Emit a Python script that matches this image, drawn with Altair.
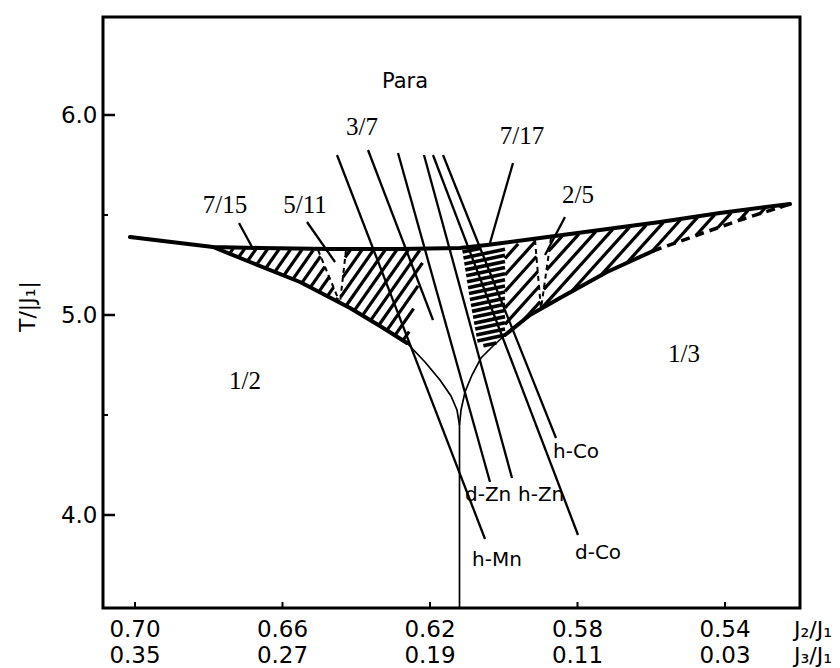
import altair as alt
import numpy as np
import pandas as pd

# ---------------------------------------------------------------------------
# Axis extents: J2/J1 decreases to the right, T/|J1| upwards
# ---------------------------------------------------------------------------
X_LO, X_HI = 0.51966, 0.70868
Y_LO, Y_HI = 3.535, 6.49
W, H = 697, 591

# ---------------------------------------------------------------------------
# Phase boundaries (J2/J1, T/|J1|)
# ---------------------------------------------------------------------------
para_x = [0.70136, 0.67885, 0.66610, 0.64712, 0.62814, 0.61186, 0.60454,
          0.59017, 0.57390, 0.55763, 0.54136, 0.52237]
para_y = [5.39, 5.34, 5.335, 5.33, 5.33, 5.335, 5.35, 5.385, 5.425, 5.465,
          5.51, 5.555]

# 1/2 phase boundary
half_x = [0.67885, 0.66881, 0.65525, 0.64169, 0.63356, 0.62624]
half_y = [5.34, 5.265, 5.165, 5.035, 4.945, 4.86]
half_thin_x = [0.62624, 0.62136, 0.61729, 0.61431, 0.61268, 0.61200]
half_thin_y = [4.86, 4.765, 4.675, 4.595, 4.525, 4.45]

# 1/3 phase boundary (solid part, then broken part near the tip)
third_x = [0.59966, 0.59288, 0.58475, 0.57200, 0.55953]
third_y = [4.90, 5.0, 5.085, 5.215, 5.32]
third_dash_x = [0.55953, 0.54597, 0.53593, 0.52237]
third_dash_y = [5.32, 5.41, 5.475, 5.555]
third_thin_x = [0.59966, 0.60319, 0.60617, 0.60861, 0.61051, 0.61159, 0.61200]
third_thin_y = [4.90, 4.84, 4.785, 4.70, 4.615, 4.525, 4.45]

# 1/2 - 1/3 boundary
split_x = [0.61200, 0.61200]
split_y = [4.45, Y_LO]

# incommensurate (hatched) regions, split by the commensurate wedges
region_a1_x = [0.67885, 0.66610, 0.65037, 0.64441, 0.65525, 0.66881]
region_a1_y = [5.335, 5.33, 5.325, 5.06, 5.165, 5.265]
region_a2_x = [0.64278, 0.62136, 0.62624, 0.63356, 0.64169, 0.64441]
region_a2_y = [5.325, 5.325, 4.86, 4.945, 5.035, 5.06]
region_b_x = [0.61132, 0.59966, 0.59966, 0.60319, 0.60698, 0.60915]
region_b_y = [5.33, 5.34, 4.90, 4.84, 4.85, 5.075]
region_c1_x = [0.59966, 0.59153, 0.58990, 0.59288, 0.59966]
region_c1_y = [5.34, 5.375, 5.03, 5.0, 4.90]
region_c2_x = [0.58719, 0.57390, 0.55763, 0.54136, 0.52237, 0.53593,
               0.54597, 0.55953, 0.57200, 0.58475, 0.58990]
region_c2_y = [5.385, 5.42, 5.46, 5.505, 5.55, 5.475, 5.41, 5.32, 5.215,
               5.085, 5.03]

# dashed edges of the commensurate wedges
wedge_x0 = [0.65037, 0.64278, 0.59153, 0.58719]
wedge_y0 = [5.325, 5.325, 5.375, 5.385]
wedge_x1 = [0.64441, 0.64441, 0.58990, 0.58990]
wedge_y1 = [5.06, 5.06, 5.03, 5.03]

# material lines (h-Mn, 3/7 pointer, d-Zn, h-Zn, d-Co, h-Co): top and bottom points
mat_x0 = [0.64522, 0.63681, 0.62868, 0.62163, 0.61919, 0.61647]
mat_y0 = [5.80, 5.825, 5.81, 5.80, 5.80, 5.80]
mat_x1 = [0.60508, 0.61919, 0.60373, 0.59776, 0.57986, 0.58583]
mat_y1 = [3.88, 4.975, 4.165, 4.185, 3.90, 4.385]

mat_labels = ["h-Mn", "d-Zn", "h-Zn", "d-Co", "h-Co"]
mat_lx = [0.60861, 0.61051, 0.59614, 0.58068, 0.58664]
mat_ly = [3.775, 4.10, 4.10, 3.81, 4.315]

# commensurate phase labels and their pointers
frac_labels = ["7/15", "5/11", "3/7", "7/17", "2/5"]
frac_lx = [0.67559, 0.65390, 0.63844, 0.59505, 0.57986]
frac_ly = [5.55, 5.55, 5.94, 5.895, 5.60]
ptr_x0 = [0.67180, 0.65336, 0.59749, 0.58339]
ptr_y0 = [5.46, 5.465, 5.76, 5.49]
ptr_x1 = [0.66827, 0.64576, 0.60373, 0.58881]
ptr_y1 = [5.34, 5.265, 5.36, 5.30]

phase_labels = ["1/2", "1/3"]
phase_lx = [0.67017, 0.55112]
phase_ly = [4.67, 4.805]

para_label_x = [0.62678]
para_label_y = [6.165]

# axis ticks
j2_ticks = [0.70, 0.66, 0.62, 0.58, 0.54]
j2_text = ["0.70", "0.66", "0.62", "0.58", "0.54"]
j3_text = ["0.35", "0.27", "0.19", "0.11", "0.03"]
t_major = [4.0, 5.0, 6.0]
t_minor = [4.5, 5.5]

# ---------------------------------------------------------------------------
# Hatching: parallel strokes clipped to each region polygon
# ---------------------------------------------------------------------------
SX = W / (X_HI - X_LO)
SY = H / (Y_HI - Y_LO)


def to_px(x, y):
    return (X_HI - np.asarray(x, float)) * SX, (np.asarray(y, float) - Y_LO) * SY


def to_data(X, Y):
    return X_HI - X / SX, Y_LO + Y / SY


def inside(px, py, X, Y):
    res = np.zeros_like(X, dtype=bool)
    j = len(px) - 1
    for i in range(len(px)):
        xi, yi, xj, yj = px[i], py[i], px[j], py[j]
        cond = ((yi > Y) != (yj > Y)) & (
            X < (xj - xi) * (Y - yi) / (yj - yi + 1e-12) + xi)
        res ^= cond
        j = i
    return res


def hatch(rx, ry, angle, spacing, kind):
    PX, PY = to_px(rx, ry)
    m = np.tan(np.radians(angle))
    c = PY - m * PX
    step = spacing * np.sqrt(1 + m * m)
    rows = []
    Xs = np.linspace(PX.min() - 2, PX.max() + 2, 3000)
    for cc in np.arange(c.min() + step / 2, c.max(), step):
        Ys = m * Xs + cc
        ins = inside(PX, PY, Xs, Ys).astype(int)
        d = np.diff(np.concatenate([[0], ins, [0]]))
        starts = np.where(d == 1)[0]
        ends = np.where(d == -1)[0] - 1
        for s, e in zip(starts, ends):
            if e - s < 2:
                continue
            x0, y0 = to_data(Xs[s], Ys[s])
            x1, y1 = to_data(Xs[e], Ys[e])
            rows.append(dict(kind=kind, x=float(x0), y=float(y0),
                             x2=float(x1), y2=float(y1)))
    return rows


def segs(kind, x0, y0, x1, y1):
    return [dict(kind=kind, x=a, y=b, x2=c, y2=d)
            for a, b, c, d in zip(x0, y0, x1, y1)]


seg_df = pd.DataFrame(
    hatch(region_a1_x, region_a1_y, 55, 9.5, "hatch")
    + hatch(region_a2_x, region_a2_y, 55, 9.5, "hatch")
    + hatch(region_c1_x, region_c1_y, 48, 11, "hatch")
    + hatch(region_c2_x, region_c2_y, 48, 11, "hatch")
    + hatch(region_b_x, region_b_y, 12, 6, "dense")
    + segs("wedge", wedge_x0, wedge_y0, wedge_x1, wedge_y1)
    + segs("leader", mat_x0, mat_y0, mat_x1, mat_y1)
    + segs("leader", ptr_x0, ptr_y0, ptr_x1, ptr_y1))


def curve(name, xs, ys):
    return pd.DataFrame({"curve": name, "x": xs, "y": ys, "i": range(len(xs))})


thick_df = pd.concat([curve("para", para_x, para_y),
                      curve("half", half_x, half_y),
                      curve("third", third_x, third_y)], ignore_index=True)
dash_df = curve("third_dash", third_dash_x, third_dash_y)
thin_df = pd.concat([curve("half_thin", half_thin_x, half_thin_y),
                     curve("third_thin", third_thin_x, third_thin_y),
                     curve("split", split_x, split_y)], ignore_index=True)

xs = alt.Scale(domain=[X_LO, X_HI], reverse=True, nice=False, zero=False)
ys = alt.Scale(domain=[Y_LO, Y_HI], nice=False, zero=False)

SANS = "DejaVu Sans"
SERIF = "Liberation Serif"

# the first layer carries the scales and the T axis; later layers reuse them
X = alt.X("x:Q", scale=xs, axis=None)
Y = alt.Y("y:Q", scale=ys, axis=alt.Axis(
    values=t_major, format=".1f", ticks=False, domain=False, grid=False,
    labelFont=SANS, labelFontSize=23, labelColor="black",
    labelPadding=6, title="T/|J₁|", titleFont=SANS,
    titleFontSize=22, titleFontWeight="normal", titleColor="black",
    titleX=-76, titleY=289, titleAngle=270, titleAlign="center",
    titleBaseline="middle"))

thick = alt.Chart(thick_df).mark_line(
    color="black", strokeWidth=4, strokeCap="round", strokeJoin="round"
).encode(x=X, y=Y, detail="curve:N", order="i:Q")

dashed = alt.Chart(dash_df).mark_line(
    color="black", strokeWidth=3.5, strokeDash=[9, 6]
).encode(x="x:Q", y="y:Q", order="i:Q")

thin = alt.Chart(thin_df).mark_line(color="black", strokeWidth=1.7).encode(
    x="x:Q", y="y:Q", detail="curve:N", order="i:Q")

hatches = alt.Chart(seg_df).transform_filter(
    alt.datum.kind == "hatch"
).mark_rule(color="black", strokeWidth=3.2).encode(
    x="x:Q", y="y:Q", x2="x2:Q", y2="y2:Q")

dense = alt.Chart(seg_df).transform_filter(
    alt.datum.kind == "dense"
).mark_rule(color="black", strokeWidth=3.6).encode(
    x="x:Q", y="y:Q", x2="x2:Q", y2="y2:Q")

wedges = alt.Chart(seg_df).transform_filter(
    alt.datum.kind == "wedge"
).mark_rule(color="black", strokeWidth=2, strokeDash=[5, 4]).encode(
    x="x:Q", y="y:Q", x2="x2:Q", y2="y2:Q")

leaders = alt.Chart(seg_df).transform_filter(
    alt.datum.kind == "leader"
).mark_rule(color="black", strokeWidth=2.3).encode(
    x="x:Q", y="y:Q", x2="x2:Q", y2="y2:Q")

mat_text = alt.Chart(pd.DataFrame({"t": mat_labels, "x": mat_lx, "y": mat_ly})).mark_text(
    font=SANS, fontSize=20, align="left", baseline="middle", color="black"
).encode(x="x:Q", y="y:Q", text="t:N")

frac_text = alt.Chart(pd.DataFrame({"t": frac_labels, "x": frac_lx, "y": frac_ly})).mark_text(
    font=SERIF, fontSize=25, align="center", baseline="middle", color="black"
).encode(x="x:Q", y="y:Q", text="t:N")

phase_text = alt.Chart(pd.DataFrame({"t": phase_labels, "x": phase_lx, "y": phase_ly})).mark_text(
    font=SERIF, fontSize=25, align="center", baseline="middle", color="black"
).encode(x="x:Q", y="y:Q", text="t:N")

para_text = alt.Chart(pd.DataFrame({"t": ["Para"], "x": para_label_x, "y": para_label_y})).mark_text(
    font=SANS, fontSize=21, align="center", baseline="middle", color="black"
).encode(x="x:Q", y="y:Q", text="t:N")

# inward tick marks on the frame
ymaj = alt.Chart(pd.DataFrame({"y": t_major})).mark_rule(color="black", strokeWidth=2.5).encode(
    y="y:Q", x=alt.value(0), x2=alt.value(12))
ymin = alt.Chart(pd.DataFrame({"y": t_minor})).mark_rule(color="black", strokeWidth=2).encode(
    y="y:Q", x=alt.value(0), x2=alt.value(5))
xtick = alt.Chart(pd.DataFrame({"x": j2_ticks})).mark_rule(color="black", strokeWidth=2).encode(
    x="x:Q", y=alt.value(H), y2=alt.value(H - 6))

tick_df = pd.DataFrame({"x": j2_ticks, "a": j2_text, "b": j3_text})
row1 = alt.Chart(tick_df).mark_text(
    font=SANS, fontSize=23, baseline="middle", color="black"
).encode(x="x:Q", y=alt.value(H + 22), text="a:N")
row2 = alt.Chart(tick_df).mark_text(
    font=SANS, fontSize=23, baseline="middle", color="black"
).encode(x="x:Q", y=alt.value(H + 48), text="b:N")

# axis names at the lower right run off the edge of the page
ttl_df = pd.DataFrame({"t": ["J₂/J₁", "J₃/J₁"], "row": [0, 1]})
ttl1 = alt.Chart(ttl_df).transform_filter(alt.datum.row == 0).mark_text(
    font=SANS, fontSize=22, align="left", baseline="middle", color="black"
).encode(text="t:N", x=alt.value(W - 6), y=alt.value(H + 22))
ttl2 = alt.Chart(ttl_df).transform_filter(alt.datum.row == 1).mark_text(
    font=SANS, fontSize=22, align="left", baseline="middle", color="black"
).encode(text="t:N", x=alt.value(W - 6), y=alt.value(H + 48))

chart = alt.layer(
    thick, hatches, dense, wedges, dashed, thin, leaders,
    mat_text, frac_text, phase_text, para_text, ymaj, ymin, xtick, row1, row2,
    ttl1, ttl2
).properties(
    width=W, height=H,
    padding={"left": 103, "top": 17, "right": 40, "bottom": 60},
    autosize=alt.AutoSizeParams(type="none"),
    background="white",
).configure_view(
    stroke="black", strokeWidth=3
)

chart.save("out.html", embed_options={"renderer": "svg", "actions": False})
